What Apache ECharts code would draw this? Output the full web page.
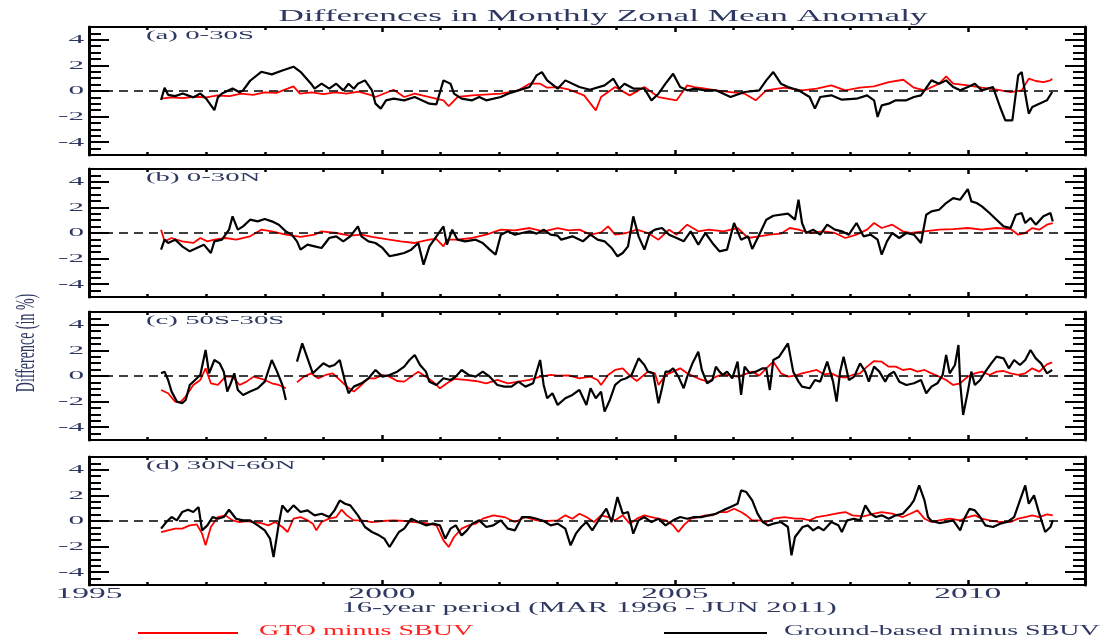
<!DOCTYPE html>
<html>
<head>
<meta charset="utf-8">
<script src="https://cdn.jsdelivr.net/npm/echarts@6/dist/echarts.min.js"></script>
<style>
  html, body { margin: 0; padding: 0; background: #ffffff; }
  #chart { width: 1113px; height: 643px; }
</style>
</head>
<body>
<div id="chart"></div>
<script>
// Monthly zonal mean anomaly differences (%), [decimal year, difference]
const gtoA = [[1996.23,-0.6],[1996.4,-0.5],[1996.6,-0.55],[1996.8,-0.45],[1997.0,-0.5],[1997.2,-0.35],[1997.4,-0.4],[1997.6,-0.2],[1997.8,-0.3],[1998.0,-0.1],[1998.2,-0.15],[1998.4,0.2],[1998.49,0.36],[1998.6,-0.2],[1998.8,-0.1],[1999.0,-0.25],[1999.2,-0.1],[1999.4,-0.2],[1999.6,-0.05],[1999.8,-0.3],[1999.89,-0.47],[2000.2,0.1],[2000.38,-0.47],[2000.56,-0.21],[2000.81,-0.47],[2001.05,-0.73],[2001.14,-1.19],[2001.29,-0.47],[2001.54,-0.34],[2002.03,-0.21],[2002.33,0.05],[2002.52,0.57],[2002.7,0.57],[2002.82,0.26],[2003.0,0.3],[2003.2,0.1],[2003.45,-0.34],[2003.65,-1.51],[2003.74,-0.47],[2003.98,0.31],[2004.23,-0.34],[2004.48,0.31],[2004.72,-0.47],[2005.03,-0.73],[2005.21,0.44],[2005.33,0.31],[2005.52,0.18],[2005.7,0.05],[2005.95,-0.08],[2006.19,-0.21],[2006.38,-0.73],[2006.56,0.05],[2006.87,0.26],[2007.17,0.05],[2007.42,0.18],[2007.67,0.44],[2007.91,0.05],[2008.16,0.26],[2008.4,0.36],[2008.65,0.7],[2008.9,0.88],[2009.08,0.26],[2009.26,0.05],[2009.51,0.57],[2009.63,1.14],[2009.75,0.57],[2010.0,0.44],[2010.24,0.26],[2010.49,0.1],[2010.73,-0.08],[2010.92,0.05],[2011.04,0.96],[2011.16,0.78],[2011.29,0.7],[2011.41,0.83],[2011.44,0.96]];
const groundA = [[1996.23,-0.7],[1996.29,0.25],[1996.35,-0.3],[1996.47,-0.4],[1996.6,-0.2],[1996.78,-0.5],[1996.9,-0.2],[1997.0,-0.6],[1997.14,-1.5],[1997.2,-0.5],[1997.27,-0.2],[1997.45,0.2],[1997.57,-0.1],[1997.63,0.05],[1997.75,0.8],[1997.94,1.5],[1998.12,1.3],[1998.3,1.6],[1998.49,1.9],[1998.61,1.5],[1998.79,0.57],[1998.85,0.18],[1998.97,0.57],[1999.1,0.18],[1999.22,0.57],[1999.34,0.05],[1999.43,0.57],[1999.52,0.18],[1999.59,0.57],[1999.71,0.83],[1999.83,0.05],[1999.89,-0.99],[1999.98,-1.38],[2000.07,-0.73],[2000.2,-0.6],[2000.38,-0.73],[2000.56,-0.47],[2000.68,-0.73],[2000.81,-0.99],[2000.93,-1.04],[2001.05,0.83],[2001.17,0.57],[2001.23,-0.21],[2001.36,-0.6],[2001.54,-0.73],[2001.66,-0.47],[2001.78,-0.73],[2002.03,-0.47],[2002.15,-0.21],[2002.33,0.05],[2002.52,0.31],[2002.64,1.22],[2002.73,1.48],[2002.82,0.83],[2003.0,0.18],[2003.13,0.83],[2003.37,0.31],[2003.55,0.1],[2003.8,0.44],[2003.95,0.96],[2004.05,0.18],[2004.14,0.57],[2004.3,0.18],[2004.48,0.18],[2004.6,-0.73],[2004.72,-0.21],[2004.84,0.57],[2004.97,1.35],[2005.09,0.31],[2005.21,0.05],[2005.33,0.18],[2005.52,0.05],[2005.7,0.05],[2005.95,-0.47],[2006.19,-0.08],[2006.44,0.05],[2006.56,0.83],[2006.68,1.48],[2006.81,0.57],[2006.93,0.31],[2007.11,0.05],[2007.3,-0.47],[2007.39,-1.38],[2007.48,-0.47],[2007.67,-0.34],[2007.85,-0.68],[2008.1,-0.6],[2008.28,-0.34],[2008.4,-0.73],[2008.46,-2.03],[2008.53,-1.12],[2008.65,-0.99],[2008.77,-0.73],[2008.95,-0.73],[2009.08,-0.47],[2009.2,-0.34],[2009.38,0.83],[2009.51,0.57],[2009.63,0.83],[2009.75,0.31],[2009.87,0.05],[2010.0,0.31],[2010.12,0.57],[2010.24,0.05],[2010.43,0.31],[2010.55,-1.25],[2010.64,-2.29],[2010.76,-2.29],[2010.86,1.22],[2010.92,1.48],[2010.98,-0.21],[2011.04,-1.77],[2011.1,-1.25],[2011.22,-0.99],[2011.35,-0.73],[2011.44,-0.08]];

const gtoB = [[1996.23,0.26],[1996.29,-0.65],[1996.41,-0.39],[1996.59,-0.65],[1996.78,-0.78],[1996.9,-0.39],[1997.02,-0.65],[1997.14,-0.52],[1997.33,-0.39],[1997.51,-0.52],[1997.75,-0.26],[1997.94,0.26],[1998.12,0.13],[1998.36,-0.13],[1998.61,-0.31],[1998.85,-0.13],[1998.97,0.13],[1999.22,0],[1999.46,-0.21],[1999.65,-0.13],[1999.83,-0.31],[2000.07,-0.47],[2000.32,-0.65],[2000.56,-0.78],[2000.81,-0.52],[2000.93,-0.47],[2001.05,-1.04],[2001.11,-0.52],[2001.29,-0.52],[2001.54,-0.39],[2001.78,-0.13],[2002.03,0.26],[2002.27,0.21],[2002.52,0.39],[2002.76,0.13],[2003.0,0.39],[2003.19,0.21],[2003.37,0.26],[2003.56,-0.13],[2003.74,0.05],[2003.86,0.52],[2003.98,-0.13],[2004.17,0],[2004.35,0.26],[2004.54,0],[2004.72,-0.52],[2004.9,0.26],[2005.03,-0.13],[2005.21,0.65],[2005.4,0.13],[2005.58,0.26],[2005.83,0.13],[2006.07,0.39],[2006.25,-0.39],[2006.44,-0.26],[2006.62,-0.13],[2006.81,-0.05],[2006.96,0.39],[2007.11,0.26],[2007.3,0],[2007.54,0.13],[2007.73,0],[2007.91,-0.39],[2008.1,-0.13],[2008.28,0.26],[2008.4,0.78],[2008.53,0.39],[2008.71,0.65],[2008.89,0.13],[2009.02,0],[2009.26,0.13],[2009.51,0.26],[2009.75,0.31],[2010.0,0.39],[2010.24,0.26],[2010.49,0.39],[2010.73,0.31],[2010.86,-0.13],[2010.98,0],[2011.1,0.39],[2011.22,0.26],[2011.35,0.65],[2011.45,0.78]];
const groundB = [[1996.23,-1.3],[1996.29,-0.52],[1996.35,-0.78],[1996.47,-0.52],[1996.59,-1.04],[1996.72,-1.43],[1996.84,-1.17],[1996.96,-0.91],[1997.08,-1.56],[1997.14,-0.65],[1997.27,-0.52],[1997.39,0.26],[1997.45,1.3],[1997.54,0.26],[1997.63,0.52],[1997.75,1.04],[1997.88,0.91],[1998.0,1.09],[1998.12,0.91],[1998.24,0.65],[1998.36,0.13],[1998.46,-0.13],[1998.55,-0.65],[1998.61,-1.3],[1998.73,-0.91],[1998.85,-1.04],[1998.97,-1.17],[1999.1,-0.39],[1999.22,-0.26],[1999.34,-0.65],[1999.46,-0.26],[1999.59,0.52],[1999.65,-0.26],[1999.77,-0.65],[1999.89,-0.78],[2000.01,-1.17],[2000.13,-1.82],[2000.26,-1.69],[2000.38,-1.56],[2000.5,-1.3],[2000.62,-0.78],[2000.71,-2.47],[2000.81,-1.04],[2000.93,-0.26],[2001.05,0.52],[2001.11,-0.91],[2001.2,0.26],[2001.29,-0.52],[2001.42,-0.65],[2001.6,-0.52],[2001.72,-0.78],[2001.84,-1.3],[2001.94,-1.69],[2002.03,-0.13],[2002.15,0.13],[2002.27,-0.13],[2002.39,0],[2002.52,0.13],[2002.64,-0.05],[2002.76,0.26],[2002.88,-0.13],[2003.0,-0.21],[2003.06,-0.52],[2003.25,-0.26],[2003.43,-0.65],[2003.56,-0.13],[2003.68,-0.52],[2003.8,-0.65],[2003.92,-1.17],[2004.02,-1.82],[2004.11,-1.56],[2004.2,-1.04],[2004.29,1.3],[2004.38,-0.26],[2004.48,-1.3],[2004.57,0],[2004.66,0.26],[2004.78,0.39],[2004.9,-0.13],[2005.03,-0.39],[2005.15,-0.65],[2005.27,0.13],[2005.4,-0.91],[2005.52,0],[2005.64,-0.78],[2005.76,-1.43],[2005.89,-1.3],[2006.01,0.78],[2006.13,-0.52],[2006.25,-0.26],[2006.32,-1.25],[2006.44,-0.13],[2006.56,1.04],[2006.68,1.35],[2006.93,1.51],[2007.05,1.04],[2007.11,2.6],[2007.17,0.78],[2007.24,0],[2007.36,0.26],[2007.48,-0.13],[2007.6,0.65],[2007.73,0.26],[2007.85,0.13],[2007.97,-0.13],[2008.1,0.78],[2008.22,-0.26],[2008.34,-0.13],[2008.46,-0.52],[2008.53,-1.69],[2008.62,-0.65],[2008.71,0],[2008.83,-0.39],[2008.95,0],[2009.08,-0.13],[2009.2,-0.78],[2009.29,1.43],[2009.38,1.69],[2009.51,1.82],[2009.63,2.34],[2009.75,2.73],[2009.87,2.6],[2010.0,3.43],[2010.06,2.47],[2010.15,2.34],[2010.24,2.08],[2010.37,1.56],[2010.49,1.04],[2010.61,0.52],[2010.73,0.39],[2010.82,1.43],[2010.92,1.56],[2010.98,0.78],[2011.07,1.17],[2011.16,0.65],[2011.29,1.3],[2011.41,1.56],[2011.45,0.91]];

const gtoC = [[1996.23,-1.09],[1996.35,-1.35],[1996.47,-2.0],[1996.56,-2.05],[1996.65,-1.61],[1996.78,-0.7],[1996.9,-0.31],[1996.99,0.6],[1997.08,-0.57],[1997.2,-0.7],[1997.33,-0.05],[1997.45,-0.05],[1997.57,-0.7],[1997.69,-0.44],[1997.81,-0.05],[1998.0,-0.31],[1998.12,-0.57],[1998.24,-0.7],[1998.36,-0.96],[1998.45,null],[1998.55,-0.49],[1998.67,-0.05],[1998.79,0.21],[1998.91,-0.18],[1999.04,0.08],[1999.16,0.21],[1999.28,-0.31],[1999.4,-0.83],[1999.52,-1.22],[1999.65,-0.7],[1999.77,-0.18],[1999.89,-0.18],[2000.01,0.08],[2000.13,-0.05],[2000.26,-0.39],[2000.38,-0.44],[2000.5,-0.05],[2000.62,0.34],[2000.75,-0.05],[2000.87,-0.44],[2000.99,-0.96],[2001.11,-0.57],[2001.23,-0.23],[2001.42,-0.31],[2001.6,-0.39],[2001.78,-0.57],[2001.97,-0.31],[2002.15,-0.57],[2002.33,-0.44],[2002.52,-0.31],[2002.7,-0.05],[2002.88,0.08],[2003.0,0.03],[2003.19,0.05],[2003.37,-0.18],[2003.56,-0.05],[2003.68,-0.31],[2003.74,-0.7],[2003.86,0.08],[2003.98,0.47],[2004.11,0.6],[2004.23,0.03],[2004.35,-0.39],[2004.54,0.34],[2004.66,0.21],[2004.72,-0.7],[2004.84,0.08],[2004.97,0.34],[2005.09,0.6],[2005.21,0.21],[2005.33,-0.05],[2005.46,-0.31],[2005.58,-0.44],[2005.7,-0.05],[2005.83,0.13],[2005.95,0.03],[2006.07,-0.05],[2006.19,0.13],[2006.32,0.34],[2006.44,0.03],[2006.56,0.6],[2006.68,1.12],[2006.81,0.21],[2006.93,-0.05],[2007.05,0.03],[2007.17,0.21],[2007.3,0.34],[2007.42,0.47],[2007.54,0.13],[2007.67,0.21],[2007.79,-0.05],[2007.91,-0.13],[2008.03,0.08],[2008.16,0.21],[2008.28,0.73],[2008.4,1.17],[2008.53,1.12],[2008.65,0.73],[2008.77,0.73],[2008.89,0.47],[2009.02,0.55],[2009.14,0.34],[2009.26,0.47],[2009.38,0.21],[2009.51,-0.05],[2009.63,-0.31],[2009.75,-0.7],[2009.87,-0.57],[2010.0,-0.05],[2010.12,0.21],[2010.24,0.34],[2010.37,0.08],[2010.49,0.34],[2010.61,0.39],[2010.73,0.21],[2010.86,0.08],[2010.98,0.21],[2011.1,0.6],[2011.22,0.34],[2011.35,0.91],[2011.44,1.06]];
const groundC = [[1996.23,0.21],[1996.29,0.34],[1996.35,-0.31],[1996.41,-1.22],[1996.5,-2.0],[1996.59,-2.13],[1996.65,-1.87],[1996.72,-0.7],[1996.81,-0.31],[1996.9,0.08],[1996.99,2.03],[1997.05,0.21],[1997.14,1.25],[1997.23,0.99],[1997.3,0.34],[1997.36,-1.22],[1997.42,-0.57],[1997.48,0.21],[1997.54,-1.09],[1997.63,-1.48],[1997.75,-1.22],[1997.88,-0.96],[1998.0,-0.44],[1998.12,1.25],[1998.21,0.34],[1998.3,-0.7],[1998.36,-1.87],[1998.45,null],[1998.55,1.12],[1998.64,2.55],[1998.73,1.38],[1998.82,0.21],[1998.91,0.6],[1999.0,0.99],[1999.1,0.73],[1999.19,0.86],[1999.28,1.25],[1999.37,-0.44],[1999.43,-1.35],[1999.52,-0.83],[1999.65,-0.57],[1999.77,-0.18],[1999.89,0.47],[2000.01,-0.05],[2000.13,0.08],[2000.26,0.34],[2000.38,0.73],[2000.47,1.25],[2000.56,1.64],[2000.65,0.86],[2000.75,0.34],[2000.81,-0.44],[2000.93,-0.7],[2001.05,-0.18],[2001.17,-0.31],[2001.26,-0.05],[2001.36,0.47],[2001.48,0.08],[2001.6,-0.05],[2001.72,0.34],[2001.84,-0.05],[2001.97,-0.7],[2002.09,-0.83],[2002.21,-0.83],[2002.33,-0.44],[2002.45,-0.83],[2002.58,-0.57],[2002.7,1.25],[2002.76,-0.7],[2002.82,-1.74],[2002.91,-1.35],[2003.0,-2.26],[2003.13,-1.74],[2003.25,-1.48],[2003.37,-1.09],[2003.49,-2.26],[2003.56,-0.96],[2003.65,-1.74],[2003.74,-1.22],[2003.8,-2.78],[2003.89,-1.87],[2003.98,-0.7],[2004.08,-0.31],[2004.17,-0.18],[2004.26,0.08],[2004.38,1.38],[2004.48,0.86],[2004.54,0.34],[2004.63,0.21],[2004.72,-2.13],[2004.78,-0.96],[2004.84,0.34],[2004.9,0.34],[2004.97,0.6],[2005.06,-0.05],[2005.15,-0.96],[2005.21,-0.05],[2005.3,0.99],[2005.4,1.9],[2005.46,0.47],[2005.55,-0.57],[2005.64,-0.31],[2005.7,0.73],[2005.76,0.34],[2005.82,0.08],[2005.89,0.34],[2005.98,-0.18],[2006.07,1.12],[2006.13,-1.48],[2006.19,0.73],[2006.28,0.21],[2006.38,0.34],[2006.5,0.6],[2006.56,0.6],[2006.62,-1.09],[2006.68,1.25],[2006.78,1.51],[2006.93,2.55],[2007.02,0.34],[2007.11,-0.44],[2007.17,-0.83],[2007.3,-0.96],[2007.39,-0.31],[2007.48,-0.44],[2007.6,1.12],[2007.7,-0.44],[2007.76,-2.0],[2007.82,0.34],[2007.88,1.51],[2007.97,-0.31],[2008.06,-0.05],[2008.16,0.99],[2008.25,0.34],[2008.31,-0.44],[2008.4,0.73],[2008.49,0.34],[2008.59,-0.44],[2008.65,0.08],[2008.74,0.34],[2008.83,-0.44],[2008.95,-0.7],[2009.08,-0.57],[2009.2,-0.31],[2009.29,-1.35],[2009.38,-0.83],[2009.48,-0.57],[2009.57,0.08],[2009.63,1.64],[2009.69,0.21],[2009.78,0.86],[2009.84,2.42],[2009.87,-0.57],[2009.92,-3.04],[2010.0,-1.22],[2010.06,0.34],[2010.12,-0.7],[2010.21,-0.31],[2010.3,0.34],[2010.4,0.99],[2010.49,1.51],[2010.61,1.38],[2010.7,0.6],[2010.79,1.25],[2010.89,0.86],[2010.98,1.25],[2011.07,2.03],[2011.16,1.38],[2011.25,0.99],[2011.35,0.21],[2011.44,0.47]];

const gtoD = [[1996.23,-0.86],[1996.35,-0.73],[1996.47,-0.6],[1996.59,-0.6],[1996.72,-0.34],[1996.84,-0.26],[1996.93,-0.99],[1996.99,-1.9],[1997.08,-0.47],[1997.2,0.31],[1997.33,0.44],[1997.45,0.05],[1997.57,-0.08],[1997.69,0],[1997.81,-0.08],[1997.94,-0.16],[1998.06,-0.34],[1998.18,-0.08],[1998.3,-0.47],[1998.39,-0.86],[1998.49,0.18],[1998.61,0.31],[1998.73,0.05],[1998.82,-0.21],[1998.88,-0.73],[1998.97,-0.08],[1999.1,0.18],[1999.22,0.31],[1999.31,0.88],[1999.4,0.44],[1999.52,0.05],[1999.65,0.05],[1999.83,-0.08],[2000.01,0],[2000.2,0.05],[2000.38,0],[2000.56,-0.08],[2000.75,-0.16],[2000.93,-0.34],[2001.05,-1.51],[2001.14,-2.03],[2001.23,-1.25],[2001.36,-0.6],[2001.48,-0.34],[2001.6,-0.21],[2001.72,0.18],[2001.9,0.44],[2002.09,0.31],[2002.27,-0.08],[2002.45,0.31],[2002.64,0.05],[2002.82,0],[2003.0,0.05],[2003.13,0.44],[2003.25,0.18],[2003.37,0.57],[2003.49,0.31],[2003.62,-0.08],[2003.74,0.44],[2003.86,0.31],[2003.98,0.05],[2004.11,0.44],[2004.23,-0.21],[2004.35,0.18],[2004.48,0.44],[2004.6,0.31],[2004.72,0.18],[2004.84,0.05],[2004.97,-0.34],[2005.06,-0.86],[2005.15,-0.34],[2005.27,0.18],[2005.4,0.31],[2005.52,0.44],[2005.64,0.44],[2005.76,0.7],[2005.89,0.7],[2006.01,0.96],[2006.13,0.7],[2006.22,0.44],[2006.32,0.05],[2006.44,0.05],[2006.56,-0.08],[2006.68,0.18],[2006.87,0.31],[2007.05,0.18],[2007.17,0.18],[2007.3,0.05],[2007.42,0.31],[2007.6,0.44],[2007.79,0.62],[2007.91,0.7],[2008.03,0.44],[2008.22,0.36],[2008.4,0.57],[2008.53,0.7],[2008.71,0.57],[2008.89,0.31],[2009.02,0.57],[2009.14,0.83],[2009.26,0.18],[2009.38,-0.08],[2009.51,0.05],[2009.69,0.18],[2009.87,0.05],[2010.0,0.31],[2010.12,0.44],[2010.24,0.18],[2010.37,0.05],[2010.55,-0.08],[2010.73,-0.08],[2010.86,0.18],[2010.98,0.31],[2011.1,0.44],[2011.22,0.31],[2011.35,0.52],[2011.45,0.44]];
const groundD = [[1996.23,-0.6],[1996.32,-0.08],[1996.41,0.31],[1996.5,0.05],[1996.59,0.7],[1996.69,0.88],[1996.78,0.7],[1996.87,1.09],[1996.93,-0.73],[1997.02,-0.34],[1997.11,0.31],[1997.2,0.18],[1997.3,0.31],[1997.39,0.88],[1997.51,0.18],[1997.63,0.05],[1997.75,0.05],[1997.88,-0.34],[1998.0,-0.73],[1998.09,-1.38],[1998.15,-2.81],[1998.24,-0.21],[1998.3,1.22],[1998.39,0.7],[1998.49,1.22],[1998.61,0.7],[1998.73,0.83],[1998.85,0.44],[1998.97,0.57],[1999.1,0.31],[1999.19,0.83],[1999.28,1.61],[1999.37,1.35],[1999.46,1.22],[1999.59,0.44],[1999.71,-0.47],[1999.83,-0.86],[1999.95,-1.12],[2000.04,-1.38],[2000.13,-2.03],[2000.2,-1.51],[2000.29,-0.86],[2000.38,-0.6],[2000.5,0.18],[2000.62,-0.08],[2000.75,-0.34],[2000.87,-0.21],[2000.99,-0.34],[2001.08,-1.38],[2001.17,-0.6],[2001.26,-0.34],[2001.36,-1.12],[2001.45,-0.73],[2001.54,-0.21],[2001.66,0.05],[2001.78,-0.47],[2001.9,-0.34],[2002.03,0.05],[2002.15,-0.6],[2002.27,-0.73],[2002.39,0.31],[2002.52,0.31],[2002.64,0.18],[2002.76,0],[2002.88,-0.34],[2003.0,-0.21],[2003.13,-0.6],[2003.22,-1.9],[2003.31,-0.99],[2003.4,-0.47],[2003.49,-0.08],[2003.59,-0.73],[2003.68,-0.08],[2003.77,0.57],[2003.83,0.96],[2003.92,-0.08],[2004.02,1.87],[2004.11,0.57],[2004.2,0.7],[2004.29,-0.99],[2004.38,0.05],[2004.48,0.31],[2004.6,-0.08],[2004.72,0.18],[2004.84,-0.34],[2004.97,0.05],[2005.09,0.31],[2005.21,0.18],[2005.33,0.31],[2005.46,0.31],[2005.58,0.44],[2005.7,0.57],[2005.82,0.83],[2005.95,1.09],[2006.07,1.35],[2006.13,2.39],[2006.22,2.26],[2006.32,1.61],[2006.41,0.57],[2006.5,-0.08],[2006.59,-0.34],[2006.68,-0.21],[2006.81,-0.08],[2006.93,-0.47],[2006.99,-2.68],[2007.05,-1.25],[2007.18,-0.47],[2007.27,-0.34],[2007.36,-0.73],[2007.45,-0.47],[2007.54,-0.73],[2007.67,-0.08],[2007.79,-0.34],[2007.85,-0.86],[2007.94,0.05],[2008.06,0.18],[2008.16,0.05],[2008.25,1.22],[2008.34,0.57],[2008.43,0.31],[2008.53,0.44],[2008.65,0.18],[2008.77,0.44],[2008.89,0.57],[2009.02,1.22],[2009.08,1.61],[2009.17,2.78],[2009.26,1.61],[2009.32,0.31],[2009.38,0],[2009.51,-0.16],[2009.63,-0.08],[2009.75,0.05],[2009.87,-0.73],[2009.94,0.18],[2010.03,0.96],[2010.12,0.83],[2010.21,0.31],[2010.3,-0.34],[2010.43,-0.47],[2010.55,-0.21],[2010.67,-0.08],[2010.79,0.31],[2010.89,1.61],[2010.98,2.78],[2011.04,1.35],[2011.13,2.0],[2011.22,0.57],[2011.32,-0.86],[2011.41,-0.47],[2011.45,0.05]];

const panelNames = ['(a) 0-30S', '(b) 0-30N', '(c) 50S-30S', '(d) 30N-60N'];
const gtoSeries = [gtoA, gtoB, gtoC, gtoD];
const groundSeries = [groundA, groundB, groundC, groundD];
const yearLabels = [1995, 2000, 2005, 2010];
const yearTicks = [1996, 1997, 1998, 1999, 2000, 2001, 2002, 2003, 2004, 2005, 2006, 2007, 2008, 2009, 2010, 2011];
const fiveYearTicks = [2000, 2005, 2010];
const yMajor = [-4, -2, 0, 2, 4];
const yMinor = [-4.5, -3.5, -3, -2.5, -1.5, -1, -0.5, 0.5, 1, 1.5, 2.5, 3, 3.5, 4.5];
const seriesNames = ['GTO minus SBUV', 'Ground-based minus SBUV'];

const X_MIN = 1995, X_MAX = 2012, Y_MIN = -5, Y_MAX = 5;
const LEFT = 89, RIGHT = 28, PANEL_H = 128;
const panelTops = [27, 169, 312, 457];
const INK = '#2e3862';
const SERIF = '"Liberation Serif", "Times New Roman", serif';

const chart = echarts.init(document.getElementById('chart'), null, { renderer: 'canvas' });

const grids = [], xAxes = [], yAxes = [], series = [];

panelTops.forEach((top, g) => {
  grids.push({ left: LEFT, right: RIGHT, top: top, height: PANEL_H, containLabel: false });

  const xBase = (position, ticks, len, showLine) => ({
    type: 'value', gridIndex: g, position: position, min: X_MIN, max: X_MAX,
    axisLine: { show: showLine, onZero: false, lineStyle: { color: '#000', width: 2 } },
    axisTick: { show: true, inside: true, length: len, customValues: ticks,
                lineStyle: { color: '#000', width: 2.5 } },
    axisLabel: { show: false }, splitLine: { show: false }
  });
  xAxes.push(xBase('bottom', yearTicks, 3, true));
  xAxes.push(xBase('bottom', fiveYearTicks, 5, false));
  xAxes.push(xBase('top', yearTicks, 3, true));
  xAxes.push(xBase('top', fiveYearTicks, 5, false));

  const yBase = (position, ticks, len, showLine) => ({
    type: 'value', gridIndex: g, position: position, min: Y_MIN, max: Y_MAX,
    axisLine: { show: showLine, onZero: false, lineStyle: { color: '#000', width: 3 } },
    axisTick: { show: true, inside: true, length: len, customValues: ticks,
                lineStyle: { color: '#000', width: 2 } },
    axisLabel: { show: false }, splitLine: { show: false }
  });
  yAxes.push(yBase('left', yMajor, 20, true));
  yAxes.push(yBase('left', yMinor, 12, false));
  yAxes.push(yBase('right', yMajor, 20, true));
  yAxes.push(yBase('right', yMinor, 12, false));

  series.push({
    name: seriesNames[0], type: 'line', xAxisIndex: 4 * g, yAxisIndex: 4 * g,
    data: gtoSeries[g], showSymbol: false, symbol: 'none', connectNulls: false,
    lineStyle: { color: '#ff0000', width: 1.8 }, z: 2
  });
  series.push({
    name: seriesNames[1], type: 'line', xAxisIndex: 4 * g, yAxisIndex: 4 * g,
    data: groundSeries[g], showSymbol: false, symbol: 'none', connectNulls: false,
    lineStyle: { color: '#000000', width: 2.2 }, z: 3,
    markLine: {
      silent: true, symbol: ['none', 'none'], label: { show: false },
      lineStyle: { color: '#000', type: [9, 6], width: 1.5 },
      data: [{ yAxis: 0 }]
    }
  });
});

chart.setOption({
  animation: false,
  backgroundColor: '#ffffff',
  grid: grids, xAxis: xAxes, yAxis: yAxes, series: series
});

// Stretched serif captions, anchored through the axes' own pixel mapping
function caption(text, x, y, o) {
  const align = o.align || 'left';
  return {
    type: 'text', x: x, y: y, silent: true, z: 50,
    scaleX: o.sx || 1, scaleY: o.sy || 1, rotation: o.rot || 0,
    style: {
      text: text, fill: o.color || INK,
      font: (o.weight || 'normal') + ' ' + o.size + 'px ' + SERIF,
      align: align, verticalAlign: 'middle',
      textAlign: align, textVerticalAlign: 'middle'
    }
  };
}

const graphics = [];
graphics.push(caption('Differences in Monthly Zonal Mean Anomaly', 603, 17, { size: 17, sx: 2.07, align: 'center' }));

panelTops.forEach((top, g) => {
  const finder = { xAxisIndex: 4 * g, yAxisIndex: 4 * g };
  yMajor.forEach(v => {
    const p = chart.convertToPixel(finder, [X_MIN, v]);
    graphics.push(caption(String(v), p[0] - 5, p[1], { size: 13, sx: 2.4, align: 'right' }));
  });
  const corner = chart.convertToPixel(finder, [X_MIN, Y_MAX]);
  graphics.push(caption(panelNames[g], corner[0] + 57, corner[1] + 9, { size: 12, sx: 2.4 }));
});

const lastFinder = { xAxisIndex: 12, yAxisIndex: 12 };
yearLabels.forEach(yr => {
  const p = chart.convertToPixel(lastFinder, [yr, Y_MIN]);
  graphics.push(caption(String(yr), p[0], p[1] + 9, { size: 14, sx: 2.4, align: 'center' }));
});

graphics.push(caption('16-year period (MAR 1996 - JUN 2011)', 589, 608, { size: 15, sx: 2.04, align: 'center' }));
graphics.push(caption('Difference (in %)', 27, 343, { size: 14, sy: 2.0, rot: Math.PI / 2, align: 'center' }));

// Legend keys
graphics.push({ type: 'line', silent: true, shape: { x1: 138, y1: 633, x2: 238, y2: 633 }, style: { stroke: '#ff0000', lineWidth: 2 } });
graphics.push(caption(seriesNames[0], 259, 631, { size: 14, sx: 2.0, color: '#ff2020' }));
graphics.push({ type: 'line', silent: true, shape: { x1: 664, y1: 633, x2: 767, y2: 633 }, style: { stroke: '#000000', lineWidth: 2 } });
graphics.push(caption(seriesNames[1], 784, 631, { size: 14, sx: 2.0 }));

chart.setOption({ graphic: graphics });
</script>
</body>
</html>
